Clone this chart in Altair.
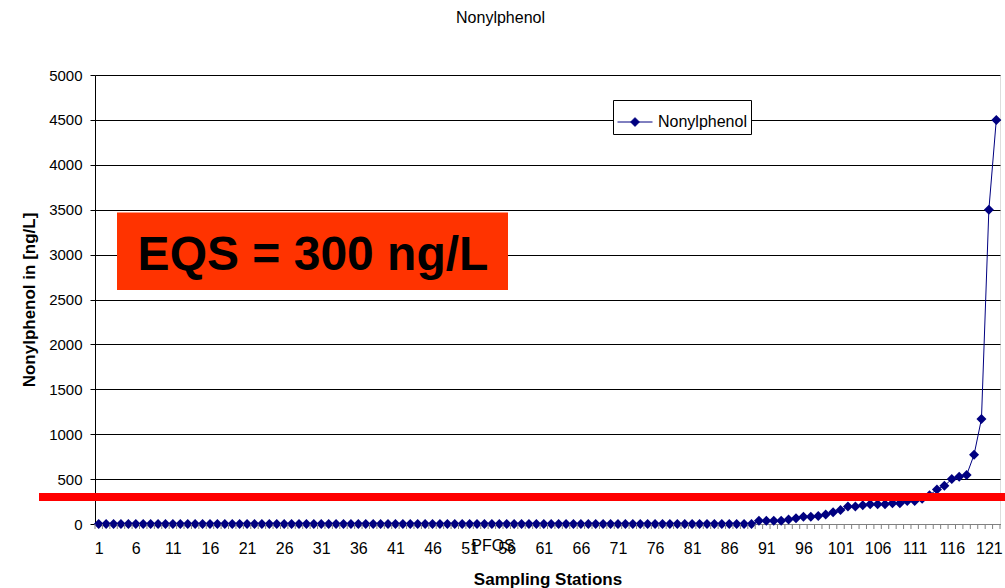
import altair as alt
import pandas as pd

FONT = "Liberation Sans"

# ---- data ----
stations = list(range(1, 123))
values = [
    0, 0, 0, 0, 0, 0, 0, 0, 0, 0,
    0, 0, 0, 0, 0, 0, 0, 0, 0, 0,
    0, 0, 0, 0, 0, 0, 0, 0, 0, 0,
    0, 0, 0, 0, 0, 0, 0, 0, 0, 0,
    0, 0, 0, 0, 0, 0, 0, 0, 0, 0,
    0, 0, 0, 0, 0, 0, 0, 0, 0, 0,
    0, 0, 0, 0, 0, 0, 0, 0, 0, 0,
    0, 0, 0, 0, 0, 0, 0, 0, 0, 0,
    0, 0, 0, 0, 0, 0, 0, 0, 0,
    35, 35, 35, 35, 50, 65, 80, 80, 90, 105,
    130, 155, 195, 195, 210, 220, 220, 220, 230, 230,
    255, 255, 280, 320, 385, 425, 500, 525, 545, 770,
    1170, 3500, 4500,
]
series_name = "Nonylphenol"
x_label_values = [1, 6, 11, 16, 21, 26, 31, 36, 41, 46, 51, 56, 61, 66, 71, 76,
                  81, 86, 91, 96, 101, 106, 111, 116, 121]
y_tick_values = [0, 500, 1000, 1500, 2000, 2500, 3000, 3500, 4000, 4500, 5000]
eqs_value = 300
eqs_label = "EQS = 300 ng/L"
stray_label = "PFOS"

df = pd.DataFrame({"station": stations, "value": values, "series": series_name})
tick_df = pd.DataFrame({"bound": [s - 0.5 for s in stations] + [stations[-1] + 0.5]})

W, H = 905, 449
NAVY = "#000080"

x_scale = alt.Scale(domain=[0.5, 122.5], nice=False, zero=False)
y_scale = alt.Scale(domain=[0, 5000], nice=False)

x_axis = alt.Axis(values=x_label_values, ticks=False, grid=False, labelPadding=16,
                  labelFontSize=16, labelFont=FONT, labelColor="black",
                  labelOverlap=False, labelFlush=False, labelSeparation=0,
                  labelBound=False, format="d",
                  domainColor="#808080", labelAngle=0,
                  title="Sampling Stations", titleFont=FONT, titleFontSize=17,
                  titleFontWeight="bold", titleColor="black",
                  titleBaseline="alphabetic", titleY=60)
y_axis = alt.Axis(values=y_tick_values, grid=True, gridColor="black", gridWidth=1,
                  gridOpacity=1, tickSize=5, tickColor="black", domainColor="black",
                  labelPadding=8, labelFontSize=15, labelFont=FONT, labelColor="black",
                  labelOverlap=False, format="d",
                  title="Nonylphenol in [ng/L]", titleFont=FONT, titleFontSize=17,
                  titleFontWeight="bold", titleColor="black",
                  titleBaseline="alphabetic", titleX=-61, titleAngle=-90)

line = alt.Chart(df).mark_line(strokeWidth=1).encode(
    x=alt.X("station:Q", scale=x_scale, axis=x_axis),
    y=alt.Y("value:Q", scale=y_scale, axis=y_axis),
    color=alt.Color("series:N", scale=alt.Scale(range=[NAVY]),
                    legend=alt.Legend(title=None, orient="none", legendX=518, legendY=25,
                                      symbolType="M-1,0L1,0M0,-0.25L0.25,0L0,0.25L-0.25,0Z",
                                      symbolSize=1225, symbolStrokeWidth=1,
                                      symbolFillColor=NAVY, fillColor="white",
                                      strokeColor="black", padding=4,
                                      labelFont=FONT, labelFontSize=16,
                                      labelColor="black", labelOffset=5)),
)

points = alt.Chart(df).mark_point(shape="diamond", filled=True, size=100,
                                  color=NAVY, opacity=1).encode(
    x=alt.X("station:Q", scale=x_scale, axis=x_axis),
    y=alt.Y("value:Q", scale=y_scale, axis=y_axis),
)

ticks = alt.Chart(tick_df).mark_rule(color="#808080", strokeWidth=1).encode(
    x=alt.X("bound:Q", scale=x_scale, axis=x_axis), y=alt.value(H), y2=alt.value(H + 5)
)

red_line = alt.Chart(pd.DataFrame({"v": [eqs_value]})).mark_rule(
    color="#FF0000", strokeWidth=8).encode(
    y=alt.Y("v:Q", scale=y_scale, axis=y_axis), x=alt.value(-56), x2=alt.value(W + 5)
)

eqs_df = pd.DataFrame({"label": [eqs_label]})
eqs_box = alt.Chart(eqs_df).mark_rect(color="#FF3300").encode(
    x=alt.value(22), x2=alt.value(413), y=alt.value(137.5), y2=alt.value(215)
)
eqs_text = alt.Chart(eqs_df).mark_text(font=FONT, fontSize=48, fontWeight="bold",
                                       color="black", align="center",
                                       baseline="alphabetic").encode(
    x=alt.value(218), y=alt.value(195), text="label:N"
)

stray = alt.Chart(pd.DataFrame({"label": [stray_label]})).mark_text(
    font=FONT, fontSize=16, color="black", align="center", baseline="alphabetic").encode(
    x=alt.value(398), y=alt.value(476), text="label:N"
)

chart = alt.layer(line, points, ticks, red_line, eqs_box, eqs_text, stray).properties(
    width=W, height=H,
    title=alt.TitleParams("Nonylphenol", font=FONT, fontSize=16, fontWeight="normal",
                          color="black", anchor="middle", dx=-47, offset=29,
                          baseline="alphabetic"),
    autosize=alt.AutoSizeParams(type="none"),
    padding={"left": 95, "top": 75, "right": 5, "bottom": 64},
).configure_view(stroke="#808080", strokeWidth=1).configure(background="white")

chart.save("out.html", embed_options={"renderer": "svg", "actions": False})
